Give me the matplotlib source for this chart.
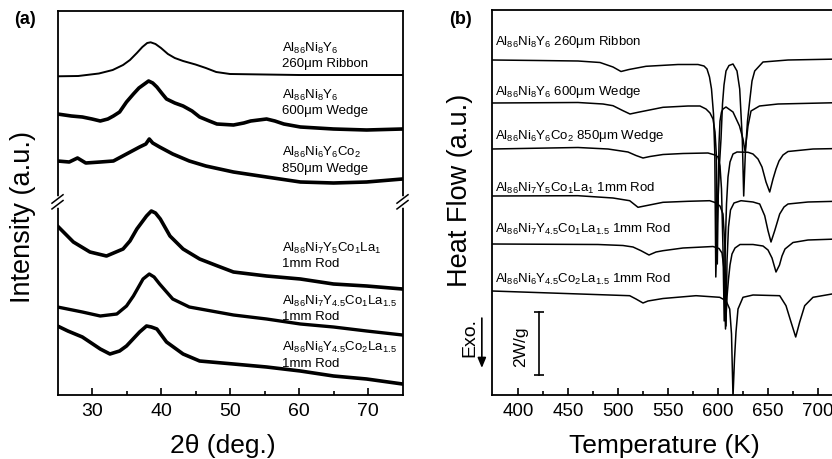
import matplotlib
matplotlib.use('Agg')
import matplotlib.pyplot as plt

plt.rcParams['font.family'] = ['Liberation Sans', 'DejaVu Sans']
plt.rcParams['mathtext.fontset'] = 'custom'
plt.rcParams['mathtext.rm'] = 'Liberation Sans'
plt.rcParams['mathtext.it'] = 'Liberation Sans:italic'
plt.rcParams['mathtext.bf'] = 'Liberation Sans:bold'

# ---- (a) XRD patterns, intensity in a.u. (top to bottom) ----
tt_ribbon = [25, 28, 31, 33, 34.5, 35.5, 36.5, 37.3, 38, 38.5, 39.2, 40, 41, 42, 43.2, 45, 46.5, 48, 50, 55, 60, 65, 70, 75]
i_ribbon = [318.7, 319, 321.5, 325, 330, 335, 342, 348, 352, 352.7, 351, 347, 341, 337, 334, 330.5, 327, 323, 321, 320.5, 320, 320, 320, 320]

tt_w600 = [25, 27, 28.6, 30, 31.2, 32.3, 33.1, 34, 35, 36, 36.8, 37.6, 38.2, 38.8, 39.4, 40.2, 40.8, 42, 43.2, 44.5,
           45.6, 47, 48.1, 50.5, 52, 53, 55.3, 56.5, 57.8, 60.2, 65, 69.8, 75]
i_w600 = [281, 279, 278, 276, 274, 276, 279, 283, 293, 301, 307, 311, 314, 312, 308, 301, 296, 292, 289, 284,
          278, 274, 271, 270, 272, 274, 276, 274, 271, 268, 266, 265, 266]

tt_w850 = [25, 26.7, 27.9, 29.1, 31.2, 33.1, 35, 36.9, 37.8, 38.3, 38.8, 39.8, 41.7, 44.1, 46.5, 50.5, 55.3, 60.2, 65, 69.8, 75]
i_w850 = [234, 233, 237, 232, 233, 234, 241, 248, 251, 256, 252, 248, 241, 234, 229, 223, 218, 213, 212, 213, 216]

tt_rod1 = [25, 27.3, 29.7, 32.1, 34.5, 35.5, 36.5, 37.9, 38.6, 39.2, 39.9, 41.3, 43.2, 45.6, 48.1, 50.5, 55.3, 60.2, 65, 69.8, 75]
i_rod1 = [169, 153, 143, 139, 146, 154, 166, 179, 184, 182, 176, 159, 146, 136, 129.3, 123, 119, 116, 111, 109, 106]

tt_rod2 = [25, 28.6, 31.2, 33.6, 35, 36, 37.4, 38.3, 39, 39.8, 41.7, 44.1, 48.1, 50.5, 55.3, 60.2, 65, 69.8, 75]
i_rod2 = [88, 83, 79, 81, 89, 99, 116, 121, 118, 111, 96, 88, 83, 80, 76, 71, 68, 64, 60]

tt_rod3 = [25, 26.5, 28.6, 31.2, 32.6, 34, 35, 36.9, 37.9, 38.6, 39.4, 40.8, 43.2, 45.6, 50.5, 55.3, 60.2, 65, 69.8, 75]
i_rod3 = [69, 64, 58, 46, 41, 44, 49, 63, 69, 68, 66, 53, 41, 34, 31, 28, 24, 19, 16, 11]

xrd_labels = [r'Al$_{86}$Ni$_{8}$Y$_{6}$' + '\n260μm Ribbon',
              r'Al$_{86}$Ni$_{8}$Y$_{6}$' + '\n600μm Wedge',
              r'Al$_{86}$Ni$_{6}$Y$_{6}$Co$_{2}$' + '\n850μm Wedge',
              r'Al$_{86}$Ni$_{7}$Y$_{5}$Co$_{1}$La$_{1}$' + '\n1mm Rod',
              r'Al$_{86}$Ni$_{7}$Y$_{4.5}$Co$_{1}$La$_{1.5}$' + '\n1mm Rod',
              r'Al$_{86}$Ni$_{6}$Y$_{4.5}$Co$_{2}$La$_{1.5}$' + '\n1mm Rod']
xrd_label_y = [340.5, 293.5, 236, 140.5, 87.5, 41]

# ---- (b) DSC traces, heat flow in a.u. (2 W/g = 63 units) ----
T_ribbon = [374, 420, 460, 482, 495, 503, 511, 528, 560, 580, 586, 589, 591.5, 593.5, 595.5, 596.8, 597.8, 599.5, 601.5, 603,
            604.5, 606, 608, 611, 615, 619, 621.7, 624.3, 625.7, 627.3, 629.5, 631.7, 634, 636.7, 645, 670, 750]
h_ribbon = [335, 334.5, 334, 332.5, 328, 323.5, 325.5, 328.7, 330.5, 330.5, 329, 326, 318, 306, 281, 241, 118, 181, 231, 256,
            291, 310, 324, 329.5, 331, 324, 306, 256, 199, 241, 274, 294, 314, 324, 333, 335, 336.5]

T_w600 = [374, 460, 485, 495, 505, 512, 520, 545, 570, 582, 588, 592, 595, 597, 598.3, 599.3, 600.3, 601, 602, 603.5,
          605, 608, 615, 621.5, 625, 627, 628.5, 630, 633, 641.5, 660, 750]
h_w600 = [292, 292.5, 291, 289.3, 284.3, 281, 282.7, 287.7, 289, 289, 286, 282, 276, 263, 241, 131, 206, 251, 274, 283,
          286, 288, 283, 269, 256, 244, 256, 269, 284, 289, 291, 293]

T_w850 = [374, 460, 490, 510, 518, 525, 532, 545, 565, 590, 597, 600, 602, 603.5, 605, 606.2, 607.2, 608.5, 610, 612,
          615, 619, 630, 635, 640, 644, 648, 651.7, 655, 658, 661, 665, 670, 695, 750]
h_w850 = [246, 247.5, 246, 243, 239.5, 237, 238.5, 240.5, 241.5, 242, 240, 238, 229, 206, 146, 74, 146, 191, 218, 233,
          241, 243, 242.7, 241, 236, 228, 213, 203, 216, 226, 234, 240, 243.5, 246, 247]

T_rod1 = [374, 460, 495, 511.7, 520, 528, 545, 570, 591.7, 597, 602, 605, 606.8, 608, 609, 610.5, 612.5, 616, 623, 635,
          641.7, 646.7, 650, 653, 656.7, 661.7, 666, 670, 690, 750]
h_rod1 = [199, 199.3, 197, 194.3, 187.7, 189.3, 192.7, 193.7, 194.3, 192.5, 189, 181, 151, 69, 134, 168, 185, 192, 194.3, 193,
          191, 179.3, 164.3, 153, 164.3, 181, 188, 191, 193, 194.5]

T_rod2 = [374, 480, 505, 515, 523, 531, 538, 545, 565, 595, 601, 604, 606, 607.5, 609, 610.5, 612, 614, 617, 622,
          635, 645, 650, 654, 658, 661.5, 664, 667, 675, 690, 750]
h_rod2 = [151, 150.5, 149.5, 148, 144.3, 140, 143, 144.3, 147, 148.5, 146.5, 142, 126, 66, 98, 116, 130, 141, 147, 150.5,
          150.5, 149, 145, 137, 123, 130, 139, 146, 152.5, 155, 157]

T_rod3 = [374, 462, 511.7, 518, 525, 530, 545, 578, 601.7, 608, 611.7, 613.5, 615, 616.5, 618, 620, 625, 635, 661.7, 668,
          673, 677.7, 681.7, 686.7, 695, 714, 750]
h_rod3 = [104, 101, 99.3, 96, 92, 94, 96.5, 99.3, 97.7, 94.3, 86, 61, -2, 36, 63, 86, 97.7, 100, 99.3, 89.3,
          73, 58, 73, 89.3, 97.7, 101, 102]

dsc_labels = [r'Al$_{86}$Ni$_{8}$Y$_{6}$ 260μm Ribbon',
              r'Al$_{86}$Ni$_{8}$Y$_{6}$ 600μm Wedge',
              r'Al$_{86}$Ni$_{6}$Y$_{6}$Co$_{2}$ 850μm Wedge',
              r'Al$_{86}$Ni$_{7}$Y$_{5}$Co$_{1}$La$_{1}$ 1mm Rod',
              r'Al$_{86}$Ni$_{7}$Y$_{4.5}$Co$_{1}$La$_{1.5}$ 1mm Rod',
              r'Al$_{86}$Ni$_{6}$Y$_{4.5}$Co$_{2}$La$_{1.5}$ 1mm Rod']
dsc_label_y = [354, 304, 260, 208, 167, 117]

fig = plt.figure(figsize=(8.32, 4.6), dpi=100)
W, H = 832.0, 460.0

# ---------------- panel (a) ----------------
ax1 = fig.add_axes([57.5 / W, 64 / H, 345 / W, 384 / H])
xrd = [(tt_ribbon, i_ribbon, 1.4), (tt_w600, i_w600, 2.6), (tt_w850, i_w850, 2.6),
       (tt_rod1, i_rod1, 2.6), (tt_rod2, i_rod2, 2.4), (tt_rod3, i_rod3, 2.6)]
for tt, ii, lw in xrd:
    ax1.plot(tt, ii, color='black', lw=lw, solid_joinstyle='round')
for lab, y in zip(xrd_labels, xrd_label_y):
    ax1.text(57.5, y, lab, fontsize=9.5, va='center', ha='left', linespacing=1.25)
ax1.set_xlim(25, 75)
ax1.set_ylim(0, 384)
ax1.set_xticks([30, 40, 50, 60, 70])
ax1.set_xticks([35, 45, 55, 65], minor=True)
ax1.set_yticks([])
ax1.tick_params(axis='x', which='both', direction='in', labelsize=14, pad=5, width=1.2)
ax1.tick_params(axis='x', which='major', length=5)
ax1.tick_params(axis='x', which='minor', length=3)
for s in ax1.spines.values():
    s.set_linewidth(1.3)

# axis break marks
yb = 0.503
for xa in (0, 1):
    ax1.plot([xa, xa], [yb - 0.008, yb + 0.008], transform=ax1.transAxes, color='white',
             lw=4, clip_on=False, zorder=5)
    for off in (-0.0075, 0.0075):
        ax1.plot([xa - 0.016, xa + 0.016], [yb + off - 0.011, yb + off + 0.011], transform=ax1.transAxes,
                 color='black', lw=1.1, clip_on=False, zorder=6)

fig.text(23 / W, 1 - 217 / H, 'Intensity (a.u.)', rotation=90, ha='center', va='center', fontsize=19.5)
fig.text(223 / W, 1 - 446 / H, '2θ (deg.)', ha='center', va='center', fontsize=19)
fig.text(25 / W, 1 - 20 / H, '(a)', ha='center', va='center', fontsize=13, fontweight='bold')

# ---------------- panel (b) ----------------
ax2 = fig.add_axes([492 / W, 64 / H, 376 / W, 385 / H])
dsc = [(T_ribbon, h_ribbon), (T_w600, h_w600), (T_w850, h_w850),
       (T_rod1, h_rod1), (T_rod2, h_rod2), (T_rod3, h_rod3)]
for T, h in dsc:
    ax2.plot(T, h, color='black', lw=1.1)
for lab, y in zip(dsc_labels, dsc_label_y):
    ax2.text(377, y, lab, fontsize=9.5, va='center', ha='left')
ax2.set_xlim(374, 750)
ax2.set_ylim(0, 385)
ax2.set_xticks([400, 450, 500, 550, 600, 650, 700])
ax2.set_xticks([425, 475, 525, 575, 625, 675, 725], minor=True)
ax2.set_yticks([])
ax2.tick_params(axis='x', which='both', direction='in', labelsize=13.5, pad=5, width=1.2)
ax2.tick_params(axis='x', which='major', length=5)
ax2.tick_params(axis='x', which='minor', length=3)
for s in ax2.spines.values():
    s.set_linewidth(1.3)

# 2 W/g scale bar
ax2.plot([420.7, 420.7], [20, 83], color='black', lw=1.2)
ax2.plot([420.7, 420.7], [20, 83], ls='none', marker='_', ms=7, mew=1.2, color='black')
ax2.text(402.7, 49, '2W/g', rotation=90, ha='center', va='center', fontsize=12.5)

# exo arrow
ax2.annotate('', xy=(-0.027, 0.063), xytext=(-0.027, 0.207), xycoords='axes fraction',
             arrowprops=dict(arrowstyle='-|>,head_width=0.25,head_length=0.6', color='black', lw=1.2),
             annotation_clip=False)
ax2.text(-0.06, 0.153, 'Exo.', rotation=90, ha='center', va='center', fontsize=14,
         transform=ax2.transAxes)

fig.text(460 / W, 1 - 190 / H, 'Heat Flow (a.u.)', rotation=90, ha='center', va='center', fontsize=19.5)
fig.text(664 / W, 1 - 446 / H, 'Temperature (K)', ha='center', va='center', fontsize=19)
fig.text(460 / W, 1 - 20 / H, '(b)', ha='center', va='center', fontsize=13, fontweight='bold')

fig.savefig('out.png', dpi=100)
